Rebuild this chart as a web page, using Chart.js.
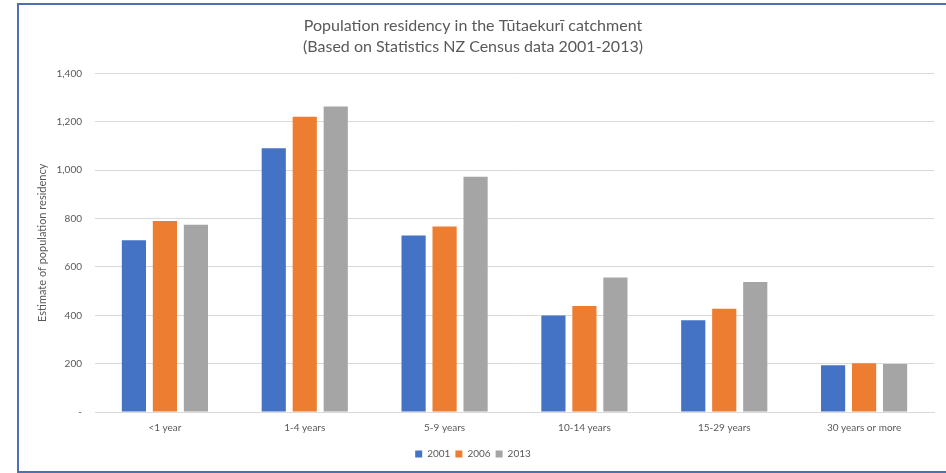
<!DOCTYPE html>
<html>
<head>
<meta charset="utf-8">
<script src="https://cdn.jsdelivr.net/npm/chart.js@4.4.0/dist/chart.umd.min.js"></script>
<style>
  html, body { margin: 0; padding: 0; background: #ffffff; }
  #wrap { position: relative; width: 946px; height: 473px; overflow: hidden; }
  #frame { position: absolute; left: 17px; top: 3px; width: 960px; height: 466px;
           border-top: 2px solid #4f6fae; border-left: 2px solid #4f6fae; border-bottom: 2px solid #4f6fae;
           box-sizing: content-box; pointer-events: none; }
  canvas { position: absolute; left: 0; top: 0; }
</style>
</head>
<body>
<div id="wrap">
  <canvas id="c" width="946" height="473"></canvas>
  <div id="frame"></div>
</div>
<script>
const categories = ["<1 year", "1-4 years", "5-9 years", "10-14 years", "15-29 years", "30 years or more"];
const seriesNames = ["2001", "2006", "2013"];
const values2001 = [710, 1091, 730, 399, 380, 193];
const values2006 = [790, 1221, 767, 438, 427, 202];
const values2013 = [775, 1264, 973, 556, 538, 199];
const seriesColors = ["#4472C4", "#ED7D31", "#A5A5A5"];
const yTicks = [0, 200, 400, 600, 800, 1000, 1200, 1400];
const titleLines = ["Population residency in the Tūtaekurī catchment", "(Based on Statistics NZ Census data 2001-2013)"];
const yAxisTitle = "Estimate of population residency";

const FONT = "Lato, 'Open Sans', sans-serif";
const TXT = "#595959";

const seriesValues = [values2001, values2006, values2013];
const datasets = seriesNames.map((n, i) => ({
  label: n,
  data: seriesValues[i],
  backgroundColor: seriesColors[i],
  borderWidth: 0,
  categoryPercentage: 0.665,
  barPercentage: 0.78
}));

new Chart(document.getElementById('c'), {
  type: 'bar',
  data: { labels: categories, datasets },
  options: {
    responsive: false,
    animation: false,
    devicePixelRatio: 1,
    layout: { padding: { left: 12, right: 12, top: 0, bottom: 4 } },
    plugins: {
      title: {
        display: true,
        text: titleLines,
        color: TXT,
        font: { family: FONT, size: 16, weight: 'normal', lineHeight: 1.33 },
        padding: { top: 15, bottom: 16 }
      },
      legend: {
        position: 'bottom',
        labels: {
          color: TXT,
          font: { family: FONT, size: 10 },
          boxWidth: 7, boxHeight: 7,
          padding: 5
        }
      },
      tooltip: { enabled: false }
    },
    scales: {
      x: {
        grid: { display: false, drawTicks: false },
        border: { display: true, color: '#d9d9d9', width: 1 },
        ticks: { color: TXT, font: { family: FONT, size: 10 }, padding: 10, maxRotation: 0 }
      },
      y: {
        min: 0, max: 1400,
        afterFit: (s) => { s.width = 83; },
        afterBuildTicks: (s) => { s.ticks = yTicks.map(v => ({ value: v })); },
        grid: { color: '#d9d9d9', drawTicks: false, lineWidth: 1 },
        border: { display: false },
        ticks: {
          color: TXT, font: { family: FONT, size: 10 }, padding: 13,
          callback: (v) => v === 0 ? '-' : v.toLocaleString('en-US')
        },
        title: {
          display: true, text: yAxisTitle, color: TXT,
          font: { family: FONT, size: 11 }, padding: { top: 24, bottom: 0 }
        }
      }
    }
  }
});
</script>
</body>
</html>
